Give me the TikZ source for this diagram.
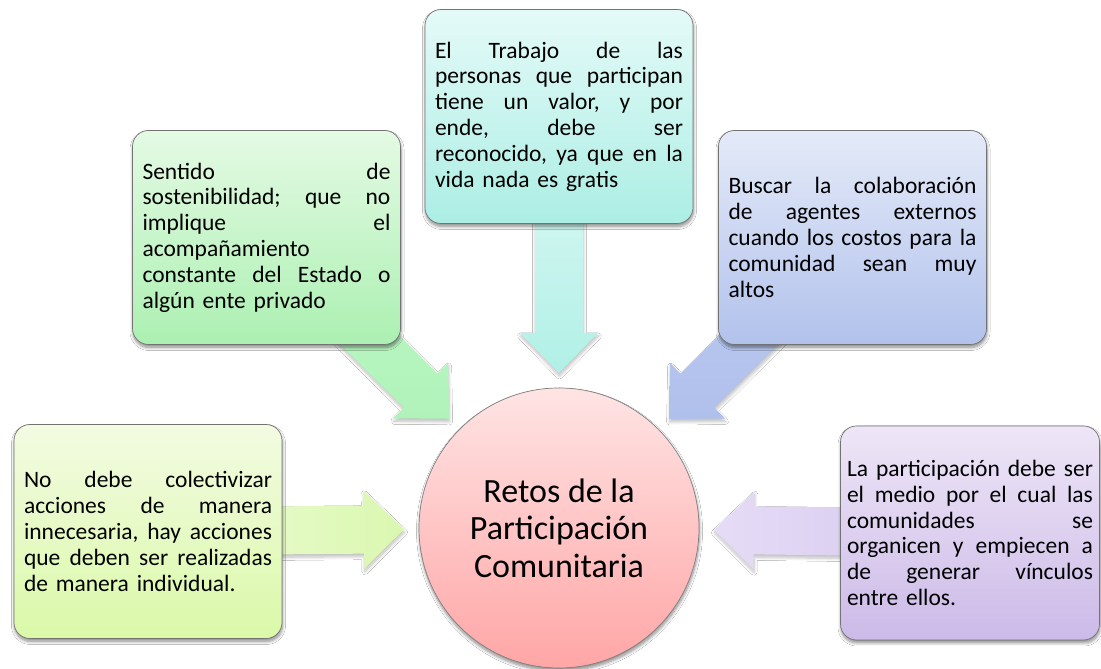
\documentclass[tikz,border=0pt]{standalone}
\usepackage{fontspec}
\setmainfont{Carlito}
\usetikzlibrary{calc,shadows,shadows.blur}
\pgfdeclarelayer{background}
\pgfsetlayers{background,main}

\definecolor{cTop}{RGB}{255,228,228}
\definecolor{cBot}{RGB}{255,166,166}
\definecolor{lTop}{RGB}{243,251,226}
\definecolor{lBot}{RGB}{218,249,168}
\definecolor{tlTop}{RGB}{228,250,228}
\definecolor{tlBot}{RGB}{172,240,178}
\definecolor{tTop}{RGB}{228,250,248}
\definecolor{tBot}{RGB}{172,238,228}
\definecolor{trTop}{RGB}{228,234,248}
\definecolor{trBot}{RGB}{178,194,236}
\definecolor{rTop}{RGB}{238,230,247}
\definecolor{rBot}{RGB}{204,186,232}

\newcommand{\blockarrow}[2]{%
  \coordinate (tip-#1) at ($(c.center)!155pt!(#1.center)$);
  \coordinate (hb-#1) at ($(tip-#1)!40pt!(#1.center)$);
  \path[arrowbody,#2] (tip-#1)
    -- ($(hb-#1)!39pt!90:(tip-#1)$)
    -- ($(hb-#1)!24pt!90:(tip-#1)$)
    -- ($(#1.center)!24pt!90:(tip-#1)$)
    -- ($(#1.center)!24pt!-90:(tip-#1)$)
    -- ($(hb-#1)!24pt!-90:(tip-#1)$)
    -- ($(hb-#1)!39pt!-90:(tip-#1)$)
    -- cycle;}

\tikzset{
  softshadow/.style={blur shadow={shadow xshift=0.5pt, shadow yshift=-3pt, shadow blur radius=3pt, shadow blur steps=8, shadow opacity=45}},
  box/.style={draw=black!55, line width=0.7pt, rounded corners=16pt,
    minimum width=268pt, minimum height=214pt, inner sep=0pt,
    text width=248pt, align=left, font=\fontsize{23.5}{25.8}\selectfont,
    softshadow},
  hub/.style={circle, draw=black!50, line width=0.7pt, minimum size=280pt,
    inner sep=0pt, align=center, font=\fontsize{34}{37.5}\selectfont,
    top color=cTop, bottom color=cBot, softshadow},
  arrowbody/.style={blur shadow={shadow xshift=0.5pt, shadow yshift=-3pt, shadow blur radius=3pt, shadow blur steps=8, shadow opacity=25}}
}

\begin{document}
\begin{tikzpicture}[x=1pt,y=1pt]
\useasboundingbox (0,0) rectangle (1101,669);

\node[hub] (c) at (559,141) {Retos de la\\Participación\\Comunitaria};

\node[box, top color=lTop, bottom color=lBot] (L) at (148,137.5)
  {No\hfill debe\hfill colectivizar\\
   acciones\hfill de\hfill manera\\
   innecesaria,\hfill hay\hfill acciones\\
   que\hfill deben\hfill ser\hfill realizadas\\
   de manera individual.};

\node[box, top color=tlTop, bottom color=tlBot] (TL) at (266.5,431.5)
  {Sentido\hfill de\\
   sostenibilidad;\hfill que\hfill no\\
   implique\hfill el\\
   acompañamiento\\
   constante\hfill del\hfill Estado\hfill o\\
   algún ente privado};

\node[box, top color=tTop, bottom color=tBot] (T) at (559,552.5)
  {El\hfill Trabajo\hfill de\hfill las\\
   personas\hfill que\hfill participan\\
   tiene\hfill un\hfill valor,\hfill y\hfill por\\
   ende,\hfill debe\hfill ser\\
   reconocido,\hfill ya\hfill que\hfill en\hfill la\\
   vida nada es gratis};

\node[box, top color=trTop, bottom color=trBot] (TR) at (852.5,431.5)
  {Buscar\hfill la\hfill colaboración\\
   de\hfill agentes\hfill externos\\
   cuando\hfill los\hfill costos\hfill para\hfill la\\
   comunidad\hfill sean\hfill muy\\
   altos};

\node[box, minimum width=259pt, text width=246pt, top color=rTop, bottom color=rBot] (R) at (970,136)
  {La\hfill participación\hfill debe\hfill ser\\
   el\hfill medio\hfill por\hfill el\hfill cual\hfill las\\
   comunidades\hfill se\\
   organicen\hfill y\hfill empiecen\hfill a\\
   de\hfill generar\hfill vínculos\\
   entre ellos.};

\begin{pgfonlayer}{background}
  \fill[white] (0,0) rectangle (1101,669);
  \blockarrow{L}{left color={rgb,255:red,240;green,251;blue,218}, right color={rgb,255:red,218;green,248;blue,176}}
  \blockarrow{TL}{top color={rgb,255:red,192;green,246;blue,198}, bottom color={rgb,255:red,176;green,243;blue,186}}
  \blockarrow{T}{top color={rgb,255:red,226;green,249;blue,246}, bottom color={rgb,255:red,176;green,240;blue,230}}
  \blockarrow{TR}{top color={rgb,255:red,190;green,204;blue,240}, bottom color={rgb,255:red,176;green,192;blue,236}}
  \blockarrow{R}{left color={rgb,255:red,230;green,220;blue,246}, right color={rgb,255:red,212;green,198;blue,238}}
\end{pgfonlayer}
\end{tikzpicture}
\end{document}
